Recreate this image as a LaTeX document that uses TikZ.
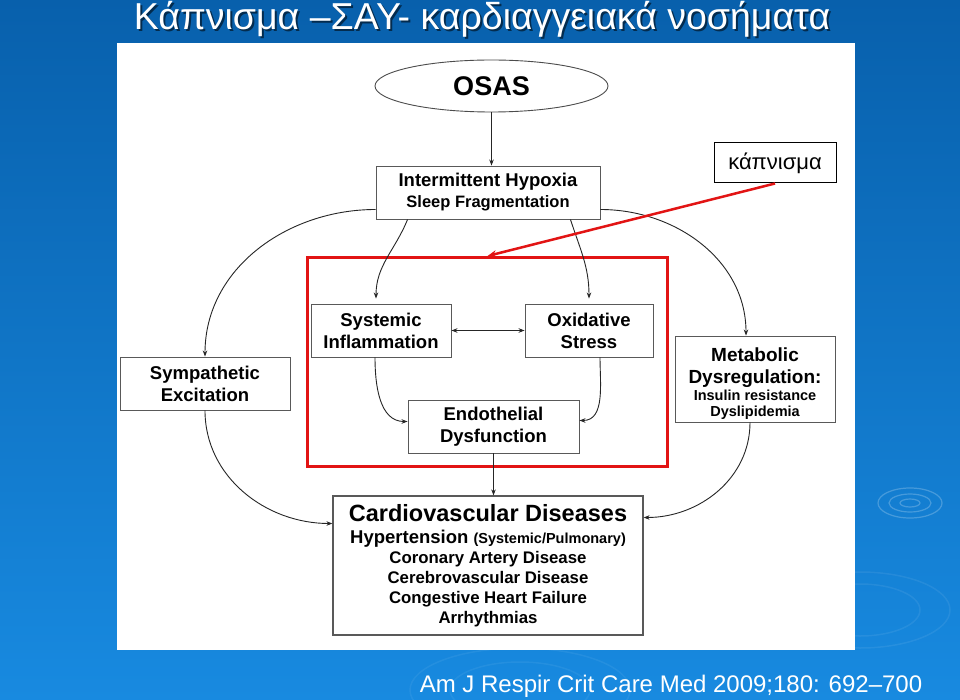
\documentclass[tikz,border=0pt]{standalone}
\usepackage{fontspec}
\setmainfont{Liberation Sans}
\usetikzlibrary{arrows.meta,shapes.geometric}
\definecolor{slidetop}{RGB}{8,96,172}
\definecolor{slidebot}{RGB}{24,138,224}
\definecolor{frame}{RGB}{226,20,20}

\begin{document}
\begin{tikzpicture}[x=1pt,y=-1pt,>={Stealth[length=6pt,width=4.5pt]},
  box/.style={draw=black!65,line width=0.9pt,fill=white,align=center,inner sep=2pt},
  bold/.style={font=\bfseries\fontsize{#1}{22}\selectfont},
  link/.style={->,line width=0.9pt,black!85}]
\useasboundingbox (0,0) rectangle (960,700);
\shade[top color=slidetop,bottom color=slidebot] (0,0) rectangle (960,700);
\foreach \rx/\ry in {10/4,21/9,32/15} \draw[white,opacity=0.22,line width=1.2pt] (910,503) ellipse ({\rx} and {\ry});
\foreach \rx/\ry in {60/26,90/38} \draw[white,opacity=0.07,line width=1.5pt] (860,610) ellipse ({\rx} and {\ry});
\foreach \rx/\ry in {70/28,110/42} \draw[white,opacity=0.06,line width=1.5pt] (520,690) ellipse ({\rx} and {\ry});
\node[black,opacity=0.55,anchor=base,font=\fontsize{37.5}{37.5}\selectfont] at (484,32) {Κάπνισμα –ΣΑΥ- καρδιαγγειακά νοσήματα};
\node[white,anchor=base,font=\fontsize{37.5}{37.5}\selectfont] (title) at (482,30) {Κάπνισμα –ΣΑΥ- καρδιαγγειακά νοσήματα};
\fill[white] (117,43) rectangle (855,650);
\node[draw=black!70,line width=0.9pt,ellipse,fill=white,minimum width=233pt,minimum height=52pt,font=\bfseries\fontsize{27}{27}\selectfont] (osas) at (491.5,86) {OSAS};
\node[box,bold=18.5,minimum width=224pt,minimum height=53pt] (hyp) at (488,192.5) {Intermittent Hypoxia\\[-1pt]\fontsize{16.5}{19}\selectfont Sleep Fragmentation};
\node[draw=frame,line width=3pt,minimum width=360pt,minimum height=209pt] (zone) at (487.5,362) {};
\node[box,bold=18.5,minimum width=140pt,minimum height=53pt] (sys) at (381,330.5) {Systemic\\Inflammation};
\node[box,bold=18.5,minimum width=128pt,minimum height=53pt] (oxi) at (589,330.5) {Oxidative\\Stress};
\node[box,bold=18.5,minimum width=171pt,minimum height=53pt] (endo) at (493.5,426.5) {Endothelial\\Dysfunction};
\node[box,bold=18.5,minimum width=170pt,minimum height=53pt] (sym) at (205,383.5) {Sympathetic\\Excitation};
\node[box,bold=19,minimum width=160pt,minimum height=86pt,text height=77pt,text depth=3pt] (met) at (755,379) {Metabolic\\[0pt]Dysregulation:\\[-5pt]\fontsize{14.5}{17}\selectfont Insulin resistance\\[-6pt]\fontsize{14.5}{17}\selectfont Dyslipidemia};
\node[box,bold=16.8,line width=1.2pt,minimum width=310pt,minimum height=139pt] (cvd) at (488,565.5) {\fontsize{23.5}{24}\selectfont Cardiovascular Diseases\\[0pt]\fontsize{18.5}{20}\selectfont Hypertension \fontsize{14.5}{16}\selectfont (Systemic/Pulmonary)\\[-2pt]Coronary Artery Disease\\[-2pt]Cerebrovascular Disease\\[-2pt]Congestive Heart Failure\\[-2pt]Arrhythmias};
\node[draw=black,line width=1pt,fill=white,minimum width=122pt,minimum height=40pt,font=\fontsize{22}{22}\selectfont] (smk) at (775,163) {κάπνισμα};
\node[white,anchor=base,font=\fontsize{24}{24}\selectfont] (cite) at (671,692) {Am J Respir Crit Care Med 2009;180: 692–700};
\draw[link] (osas.south) -- (osas.south |- hyp.north);
\draw[link] ([yshift=-17pt]hyp.west) to[out=180,in=90] (sym.north);
\draw[link] ([yshift=-17pt]hyp.east) to[out=0,in=90] ([xshift=-9pt]met.north);
\draw[link] ([xshift=32pt]hyp.south west) to[out=-112,in=90] ([xshift=-5pt,yshift=5pt]sys.north);
\draw[link] ([xshift=-30pt]hyp.south east) to[out=-72,in=90] ([yshift=5pt]oxi.north);
\draw[<->,line width=0.9pt,black!85] (sys) -- (oxi);
\draw[link] ([xshift=-6pt]sys.south) to[out=-90,in=180] ([yshift=5pt]endo.west);
\draw[link] ([xshift=11pt]oxi.south) to[out=-90,in=0] ([yshift=6pt]endo.east);
\draw[link] (endo.south) -- (endo.south |- cvd.north);
\draw[link] (sym.south) to[out=-90,in=180] ([yshift=42pt]cvd.west);
\draw[link] ([xshift=-5pt]met.south) to[out=-90,in=0] ([yshift=48pt]cvd.east);
\draw[->,frame,line width=2.5pt,>={Stealth[length=9pt,width=7pt]}] (smk.south) -- (zone.north);
\end{tikzpicture}
\end{document}
